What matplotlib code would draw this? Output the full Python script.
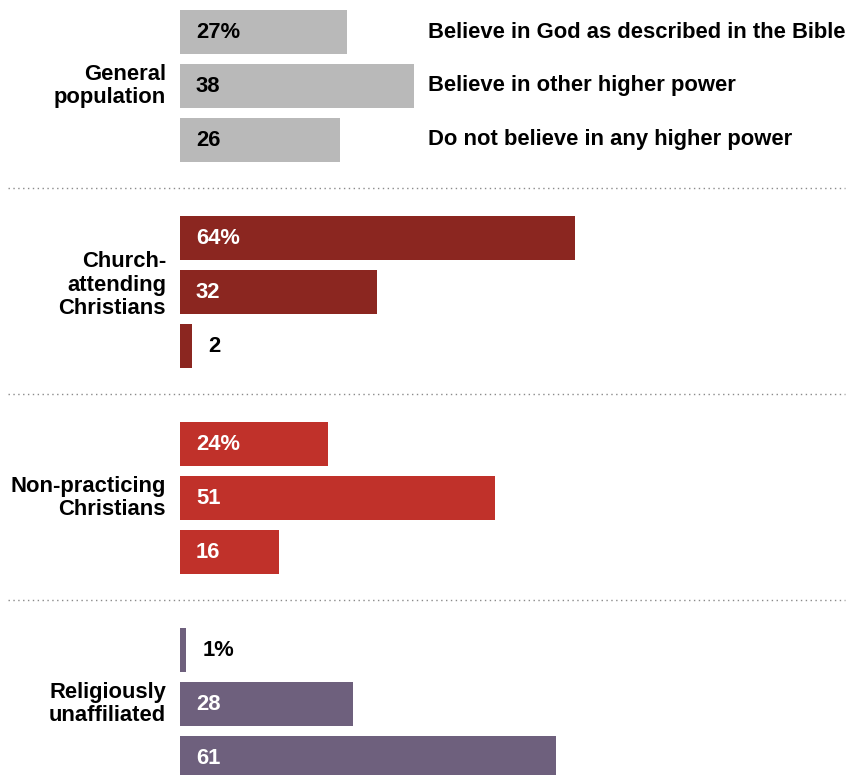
import matplotlib.pyplot as plt

plt.rcParams['font.family'] = ['Liberation Sans', 'DejaVu Sans']

groups = ['General\npopulation', 'Church-\nattending\nChristians',
          'Non-practicing\nChristians', 'Religiously\nunaffiliated']
answers = ['Believe in God as described in the Bible',
           'Believe in other higher power',
           'Do not believe in any higher power']
general = [27, 38, 26]
church = [64, 32, 2]
nonpract = [24, 51, 16]
unaffil = [1, 28, 61]
values = [general, church, nonpract, unaffil]
colors = ['#b9b9b9', '#8b2620', '#c0312a', '#6e607d']

W, H = 854, 775
px_per_pct = 6.17
x0 = 180           # pixel where bars start
top = 32           # centre of first bar (px)
slot = 54          # bar to bar
gstep = 206        # group to group
bar_h = 44

fig = plt.figure(figsize=(W / 100, H / 100), dpi=100)
ax = fig.add_axes([0, 0, 1, 1])
ax.set_xlim(-x0 / px_per_pct, (W - x0) / px_per_pct)
ax.set_ylim(H, 0)
ax.axis('off')

pad = 16 / px_per_pct
fs = 15.8
for g, (name, vals, col) in enumerate(zip(groups, values, colors)):
    ys = [top + g * gstep + i * slot for i in range(len(vals))]
    ax.barh(ys, vals, height=bar_h, color=col, left=0)
    for i, (y, v) in enumerate(zip(ys, vals)):
        txt = f'{v}%' if i == 0 else f'{v}'
        if v < 5:
            ax.text(v + pad, y, txt, ha='left', va='center', fontsize=fs,
                    fontweight='bold', color='black')
        else:
            tc = 'black' if g == 0 else 'white'
            ax.text(pad, y, txt, ha='left', va='center', fontsize=fs,
                    fontweight='bold', color=tc)
    ax.text(-14 / px_per_pct, ys[1] - 7 if g == 1 else ys[1], name,
            ha='right', va='center', fontsize=fs, fontweight='bold',
            linespacing=1.15)
    if g < len(groups) - 1:
        ax.plot([(8 - x0) / px_per_pct, (845 - x0) / px_per_pct],
                [ys[-1] + 48] * 2, color='#8a8a8a', linestyle=(0, (1, 2.5)),
                linewidth=1)

for i, lab in enumerate(answers):
    ax.text((428 - x0) / px_per_pct, top + i * slot, lab, ha='left',
            va='center', fontsize=fs, fontweight='bold', color='black')

fig.savefig('out.png', dpi=100)
